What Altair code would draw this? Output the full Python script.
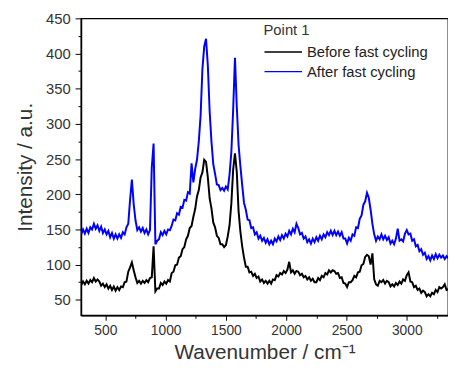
import altair as alt
import pandas as pd

# Raman spectra, Point 1
WN_START = 300
WN_STEP = 15

before_fast_cycling = [
    71, 76, 72, 77, 73, 78, 75, 81, 76, 79,
    76, 70, 73, 68, 72, 66, 70, 64, 69, 63,
    68, 64, 69, 68, 75, 76, 90, 96, 103, 92,
    82, 74, 77, 73, 77, 74, 78, 75, 81, 82,
    126, 62, 66, 66, 74, 71, 76, 73, 78, 76,
    88, 90, 99, 100, 110, 112, 122, 125, 136, 141,
    152, 155, 168, 179, 197, 206, 224, 231, 249, 246,
    224, 194, 180, 160, 153, 141, 138, 129, 129, 125,
    128, 140, 156, 187, 235, 258, 232, 176, 147, 126,
    110, 97, 97, 89, 90, 84, 87, 81, 83, 76,
    79, 74, 77, 73, 77, 73, 79, 78, 85, 83,
    88, 86, 91, 88, 93, 104, 89, 92, 87, 91,
    90, 85, 87, 82, 84, 79, 82, 77, 80, 75,
    75, 81, 78, 84, 82, 88, 86, 92, 89, 92,
    91, 87, 88, 81, 82, 74, 73, 68, 75, 75,
    78, 84, 82, 89, 90, 99, 101, 111, 114, 112,
    100, 116, 79, 72, 70, 77, 75, 78, 73, 77,
    75, 69, 72, 69, 74, 71, 76, 73, 79, 77,
    85, 89, 76, 75, 68, 70, 64, 66, 60, 63,
    61, 55, 58, 55, 60, 58, 64, 61, 68, 66,
    68, 72, 64, 65,
]

after_fast_cycling = [
    143, 150, 144, 151, 145, 153, 150, 158, 151, 156,
    148, 154, 145, 150, 143, 148, 139, 145, 137, 143,
    137, 143, 138, 146, 143, 153, 158, 192, 221, 186,
    163, 149, 153, 147, 152, 145, 150, 143, 149, 238,
    272, 129, 134, 136, 146, 142, 148, 143, 150, 149,
    155, 164, 163, 173, 171, 182, 181, 192, 191, 203,
    201, 244, 217, 236, 249, 275, 312, 378, 410, 421,
    383, 318, 275, 243, 229, 214, 213, 206, 209, 205,
    211, 207, 228, 260, 320, 394, 325, 270, 240, 213,
    188, 178, 164, 163, 152, 153, 143, 146, 137, 141,
    134, 138, 131, 136, 129, 134, 129, 137, 133, 140,
    135, 142, 137, 144, 140, 148, 143, 151, 146, 158,
    152, 143, 145, 137, 140, 132, 136, 130, 137, 132,
    139, 134, 141, 136, 143, 139, 146, 142, 148, 142,
    148, 142, 147, 141, 146, 137, 137, 130, 138, 134,
    143, 141, 153, 152, 165, 170, 185, 190, 202, 195,
    178, 158, 143, 134, 140, 136, 143, 136, 141, 135,
    139, 130, 134, 129, 137, 151, 134, 136, 133, 144,
    149, 143, 144, 134, 136, 126, 128, 119, 122, 114,
    117, 108, 112, 106, 113, 108, 115, 109, 114, 110,
    113, 108, 112, 109,
]

series_names = ["Before fast cycling", "After fast cycling"]
series_colors = ["#000000", "#0000ff"]

x_ticks = [500, 750, 1000, 1250, 1500, 1750, 2000, 2250, 2500, 2750, 3000, 3250]
y_ticks = [50, 75, 100, 125, 150, 175, 200, 225, 250, 275, 300, 325, 350, 375, 400, 425, 450]

wavenumbers = [WN_START + WN_STEP * i for i in range(len(before_fast_cycling))]

rows = []
for name, vals in zip(series_names, [before_fast_cycling, after_fast_cycling]):
    for w, v in zip(wavenumbers, vals):
        rows.append({"wavenumber": w, "intensity": v, "series": name})
df = pd.DataFrame(rows)

FONT = "Arial, Liberation Sans, sans-serif"

chart = (
    alt.Chart(df)
    .mark_line(strokeWidth=2.0, clip=True, strokeJoin="miter")
    .encode(
        x=alt.X(
            "wavenumber:Q",
            scale=alt.Scale(domain=[298, 3342], nice=False, zero=False),
            axis=alt.Axis(
                title="Wavenumber / cm⁻¹",
                values=x_ticks,
                labelExpr="datum.value % 500 == 0 ? datum.label : ''",
                format="d",
                tickSize={"condition": {"test": "datum.value % 500 != 0", "value": 3}, "value": 5},
                labelPadding=3,
                labelFontSize=14,
                labelFlush=False,
                labelOverlap=False,
                titleFontSize=21,
                titlePadding=5,
                grid=False,
            ),
        ),
        y=alt.Y(
            "intensity:Q",
            scale=alt.Scale(domain=[28, 450], nice=False, zero=False),
            axis=alt.Axis(
                title="Intensity / a.u.",
                values=y_ticks,
                labelExpr="datum.value % 50 == 0 ? datum.label : ''",
                tickSize={"condition": {"test": "datum.value % 50 != 0", "value": 3}, "value": 6},
                labelPadding=5,
                labelFontSize=15,
                labelOverlap=False,
                titleFontSize=21,
                titlePadding=10,
                grid=False,
            ),
        ),
        color=alt.Color(
            "series:N",
            scale=alt.Scale(domain=series_names, range=series_colors),
            sort=series_names,
            legend=alt.Legend(
                title="Point 1",
                orient="none",
                legendX=185,
                legendY=5,
                symbolType="stroke",
                symbolSize=1444,
                symbolStrokeWidth=1.5,
                clipHeight=16,
                rowPadding=4,
                titlePadding=6,
                labelOffset=4,
                padding=0,
                labelFontSize=15,
                titleFontSize=15,
                titleFontWeight="normal",
                titleColor="#333333",
                labelColor="#222222",
                labelFont=FONT,
                titleFont=FONT,
            ),
        ),
        order=alt.Order("wavenumber:Q"),
    )
    .properties(
        width=372,
        height=301,
        autosize=alt.AutoSizeParams(type="none"),
        padding={"left": 74, "top": 8, "right": 0, "bottom": 56},
    )
    .configure_view(stroke="#000000", strokeWidth=1.3)
    .configure_axis(
        domainColor="#000000",
        domainWidth=1.5,
        tickColor="#000000",
        tickWidth=1,
        labelColor="#333333",
        titleColor="#333333",
        labelFont=FONT,
        titleFont=FONT,
        titleFontWeight="normal",
    )
)

chart.save("out.html", embed_options={"renderer": "svg", "actions": False})
